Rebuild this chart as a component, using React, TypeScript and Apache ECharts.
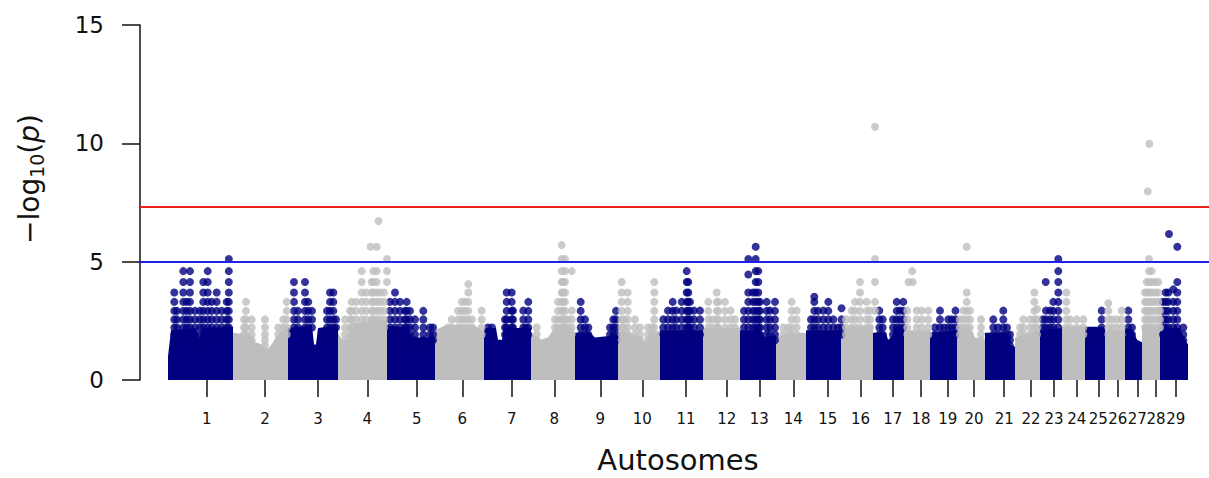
import React, { useEffect, useRef } from "react";
import * as echarts from "echarts";

// Chromosome labels and tick positions (cumulative genome position)
const chromosomes = ["1","2","3","4","5","6","7","8","9","10","11","12","13","14","15","16","17","18","19","20","21","22","23","24","25","26","27","28","29"];
const chrTicks = [206.7, 265, 318, 367.3, 416.7, 462.3, 511.7, 554.3, 600.3, 642.3, 686, 726.7, 759.3, 793.3, 827.7, 860.5, 892.7, 921, 947.7, 974, 1004.2, 1031, 1054, 1076.7, 1098.3, 1117.7, 1137.3, 1156, 1175.7];

// Observed discrete -log10(p) levels of the SNP dots
const pLevels = [1.2, 1.45, 1.68, 1.92, 2.22, 2.56, 2.92, 3.3, 3.7, 4.14, 4.6, 5.11];

// Thresholds
const genomeWideLine = 7.3;
const suggestiveLine = 5;

// Upper envelope of the dense mass of SNPs per chromosome: [position, -log10(p)]
const bodyTops: number[][][] = [
  [[168,1.0],[171,2.1],[196,2.2],[198,1.8],[201,1.8],[203,2.2],[233,2.25]],
  [[233,2.0],[250,1.9],[255,1.6],[262,1.5],[268,1.3],[273,1.6],[278,1.9],[283,2.1],[288,2.2]],
  [[288,2.2],[312,2.3],[314,1.5],[316,1.5],[318,2.2],[338,2.3]],
  [[338,2.0],[342,1.7],[348,1.7],[352,2.4],[387,2.5]],
  [[387,2.3],[408,2.2],[412,1.8],[435,1.8]],
  [[435,2.1],[445,2.3],[475,2.3],[484,2.0]],
  [[484,2.2],[496,2.2],[498,1.7],[502,1.7],[504,2.2],[531,2.2]],
  [[531,2.0],[540,1.7],[548,1.8],[556,2.3],[570,2.3],[575,2.0]],
  [[575,2.0],[590,2.0],[595,1.8],[618,1.9]],
  [[618,2.0],[630,2.0],[640,1.8],[645,1.6],[650,1.9],[660,2.1]],
  [[660,2.1],[703,2.1]],
  [[703,2.2],[740,2.2]],
  [[740,2.1],[760,2.1],[765,1.8],[776,1.9]],
  [[776,1.8],[790,2.0],[806,2.0]],
  [[806,2.1],[841,2.1]],
  [[841,2.2],[873,2.3]],
  [[873,2.0],[886,2.0],[888,1.7],[892,1.8],[894,2.2],[904,2.3]],
  [[904,2.1],[930,2.1]],
  [[930,2.0],[957,2.1]],
  [[957,2.1],[970,2.2],[975,1.8],[985,1.7]],
  [[985,2.0],[1008,2.0],[1010,1.5],[1015,1.4]],
  [[1015,1.8],[1030,2.0],[1040,2.1]],
  [[1040,2.1],[1062,2.2]],
  [[1062,2.25],[1085,2.25]],
  [[1085,2.25],[1105,2.25]],
  [[1105,2.1],[1125,2.1]],
  [[1125,2.2],[1133,2.1],[1137,1.7],[1142,1.6]],
  [[1142,2.3],[1160,2.3]],
  [[1160,2.2],[1180,2.2],[1184,1.8],[1188,1.5]],
];

// Columns of SNP dots rising above the mass: [position, top -log10(p)]
const columnTops: number[][][] = [
  [[174.3,3.7],[177,2.92],[183.3,4.6],[186.7,3.3],[190,4.6],[195,2.92],[200,2.92],[203.3,4.14],[207.7,4.6],[211.7,3.3],[216.7,3.7],[221.7,2.92],[226.7,3.3],[228.8,5.11]],
  [[244,2.56],[246,3.3],[251.7,2.56],[265,2.56],[278.3,2.22],[283.3,2.56],[286.7,3.3]],
  [[294,4.14],[298,2.92],[305,4.14],[308.3,3.3],[312,2.92],[327,2.92],[330,3.7],[333.3,3.7],[336,2.56]],
  [[345,2.56],[350,2.92],[351.7,3.3],[356,3.3],[361.7,4.6],[366,3.7],[371.7,4.14],[373.3,4.6],[376.7,4.6],[380,3.7],[384,3.7]],
  [[390,3.3],[395,3.7],[400,3.3],[405,2.92],[406.7,3.3],[410,2.92],[415,2.56],[423.3,2.92],[430,2.22],[433,2.22]],
  [[448,2.22],[451.7,2.56],[458,2.92],[461.7,3.3],[465,3.3],[468.3,4.05],[472,2.56],[481.7,2.93]],
  [[488,2.22],[492,2.22],[505,2.56],[506.7,3.7],[511.7,3.7],[513,2.93],[523.3,2.93],[526,2.22],[528.3,3.3]],
  [[536.7,2.22],[555,2.56],[558,3.3],[561.7,5.7],[565,5.11],[563,4.14],[568,2.56],[571.7,2.93]],
  [[580.7,3.3],[585,2.56],[588.3,2.22],[610,2.22],[613.3,2.56],[616,2.92]],
  [[621.7,4.14],[624,2.56],[627.7,3.7],[635,2.56],[640,2.22],[648,2.22],[652,2.22],[654.3,4.14]],
  [[663.3,2.56],[668,2.93],[672.7,3.3],[676,2.93],[681.7,3.3],[686.7,4.6],[688.3,4.14],[690,3.3],[694,2.93],[700,2.93]],
  [[708.3,3.3],[712,2.56],[716.7,3.7],[718.3,3.3],[725,3.3],[730.7,2.93],[735,2.56]],
  [[744,2.92],[748.3,3.7],[753,3.7],[755.7,5.63],[758.3,4.6],[760,3.3],[766.7,3.3],[770,2.93],[775,3.3]],
  [[783.3,2.22],[788.3,2.22],[791.7,3.3],[796.7,2.93]],
  [[811,2.56],[814.3,3.52],[818,2.92],[823.3,2.93],[828.3,3.3],[833.3,2.56],[838,2.22],[841.5,3.03]],
  [[846,2.56],[851.7,2.93],[855,3.3],[860,4.14],[866.7,3.3],[870,2.93]],
  [[879.3,2.93],[882.7,2.56],[893,2.56],[896.7,3.3],[900,2.93],[903.3,3.3]],
  [[907.3,2.93],[916.7,2.93],[921.7,2.93],[928.3,2.93]],
  [[935,2.22],[940,2.93],[944,2.22],[948.3,2.56],[951.7,2.56],[955.5,2.93]],
  [[960,2.56],[963.3,2.93],[966.7,3.7],[970,2.93],[981,2.56]],
  [[993.3,2.56],[998,2.22],[1003.3,2.93],[1007,2.22],[1010,1.92]],
  [[1020,2.22],[1023.3,2.56],[1030,2.56],[1034.3,3.7],[1037,3.0]],
  [[1043,2.56],[1046,2.93],[1050,2.93],[1053.3,3.3],[1058.3,5.11]],
  [[1066.3,3.7],[1070,2.56],[1076.7,2.56],[1083.3,2.56]],
  [[1101.7,2.93]],
  [[1108.3,3.24],[1112,2.56],[1116.7,2.56],[1121.7,2.93]],
  [[1128.3,2.93],[1132,2.22]],
  [[1145,3.7],[1146.7,4.14],[1149,5.11],[1151.7,4.6],[1155,4.14],[1158.3,4.14],[1160,2.93]],
  [[1163,3.3],[1165.7,3.7],[1168.3,3.7],[1173.3,3.83],[1177.3,4.14],[1183.3,2.22]],
];

// Isolated SNPs: [chromosome, position, -log10(p)]
const loneDots: number[][] = [
  [4, 370.5, 5.63], [4, 376.7, 5.63], [4, 378.5, 6.72], [4, 387, 5.11], [4, 387, 4.6], [4, 387, 4.14],
  [8, 571.7, 4.6],
  [13, 748.3, 5.11], [13, 748.3, 4.46],
  [16, 875, 10.7], [16, 875, 5.11], [16, 875, 4.14], [16, 875, 3.3], [16, 875, 2.93],
  [18, 908.5, 4.14], [18, 912.7, 4.14], [18, 912.2, 4.6],
  [20, 966.7, 5.63],
  [23, 1045.7, 4.14],
  [28, 1149.3, 9.98], [28, 1147.7, 7.97],
  [29, 1169, 6.17], [29, 1177.3, 5.63],
];

const NAVY = "#000080";
const GREY = "#bebebe";
const FONT = "DejaVu Sans";

function bodyAt(env: number[][], x: number): number {
  if (x <= env[0][0]) return env[0][1];
  for (let k = 1; k < env.length; k++) {
    if (x <= env[k][0]) {
      const [x0, y0] = env[k - 1];
      const [x1, y1] = env[k];
      return y0 + ((y1 - y0) * (x - x0)) / (x1 - x0 || 1);
    }
  }
  return env[env.length - 1][1];
}

export default function App() {
  const ref = useRef<HTMLDivElement>(null);
  useEffect(() => {
    if (!ref.current) return;
    const chart = echarts.init(ref.current, null, { renderer: "svg" });

    const series: any[] = [];
    bodyTops.forEach((env, i) => {
      series.push({
        type: "line",
        data: env,
        symbol: "none",
        lineStyle: { width: 0, color: i % 2 ? GREY : NAVY },
        areaStyle: { color: i % 2 ? GREY : NAVY, opacity: 1 },
        silent: true,
        z: 2,
      });
    });

    const navyDots: number[][] = [];
    const greyDots: number[][] = [];
    columnTops.forEach((cols, i) => {
      const target = i % 2 ? greyDots : navyDots;
      cols.forEach(([x, top]) => {
        target.push([x, top]);
        const base = bodyAt(bodyTops[i], x);
        pLevels.forEach((L) => {
          if (L < top - 0.2 && L >= base - 0.35) target.push([x, L]);
        });
      });
    });
    loneDots.forEach(([c, x, v]) => ((c - 1) % 2 ? greyDots : navyDots).push([x, v]));

    series.push({
      type: "scatter",
      data: [],
      z: 3,
      silent: true,
      markLine: {
        silent: true,
        symbol: "none",
        label: { show: false },
        animation: false,
        data: [
          { yAxis: genomeWideLine, lineStyle: { color: "#e82020", width: 2, type: "solid" } },
          { yAxis: suggestiveLine, lineStyle: { color: "#2020e8", width: 2, type: "solid" } },
        ],
      },
    });
    series.push({ type: "scatter", data: navyDots, symbolSize: 8, itemStyle: { color: NAVY }, silent: true, z: 4 });
    series.push({ type: "scatter", data: greyDots, symbolSize: 8, itemStyle: { color: GREY }, silent: true, z: 4 });

    chart.setOption({
      animation: false,
      backgroundColor: "#ffffff",
      grid: { left: 140, right: 0, top: 25, bottom: 98 },
      xAxis: {
        type: "value",
        min: 140,
        max: 1209,
        axisLine: { show: false },
        splitLine: { show: false },
        axisTick: { show: true, length: 17, customValues: chrTicks, lineStyle: { color: "#111", width: 1.5 } },
        axisLabel: {
          show: true,
          customValues: chrTicks,
          margin: 31,
          fontSize: 15,
          fontFamily: FONT,
          color: "#111",
          formatter: (v: number) => {
            const idx = chrTicks.findIndex((t) => Math.abs(t - v) < 0.01);
            return idx >= 0 ? chromosomes[idx] : "";
          },
        },
      },
      yAxis: {
        type: "value",
        min: 0,
        max: 15,
        interval: 5,
        axisLine: { show: true, lineStyle: { color: "#111", width: 1.5 } },
        axisTick: { show: true, length: 18, lineStyle: { color: "#111", width: 1.5 } },
        splitLine: { show: false },
        axisLabel: { fontSize: 23, fontFamily: FONT, color: "#111", margin: 36 },
      },
      graphic: [
        {
          type: "text",
          x: 29,
          y: 179,
          rotation: Math.PI / 2,
          style: {
            text: "{a|\u2212log}{s|10}{a|(}{i|p}{a|)}",
            align: "center",
            verticalAlign: "middle",
            fill: "#111",
            rich: {
              a: { fontSize: 28, fontFamily: FONT, fill: "#111", lineHeight: 34, verticalAlign: "middle" },
              s: { fontSize: 19, fontFamily: FONT, fill: "#111", lineHeight: 22, verticalAlign: "bottom" },
              i: { fontSize: 28, fontFamily: FONT, fontStyle: "italic", fill: "#111", lineHeight: 34, verticalAlign: "middle" },
            },
          },
        },
        {
          type: "text",
          x: 678,
          y: 460,
          style: {
            text: "Autosomes",
            align: "center",
            verticalAlign: "middle",
            fontSize: 29,
            lineHeight: 30,
            fontFamily: FONT,
            fill: "#111",
          },
        },
      ],
      series,
    });

    return () => chart.dispose();
  }, []);

  return (
    <div
      ref={ref}
      style={{ position: "fixed", left: 0, top: 0, width: 1209, height: 478, background: "#fff" }}
    />
  );
}
